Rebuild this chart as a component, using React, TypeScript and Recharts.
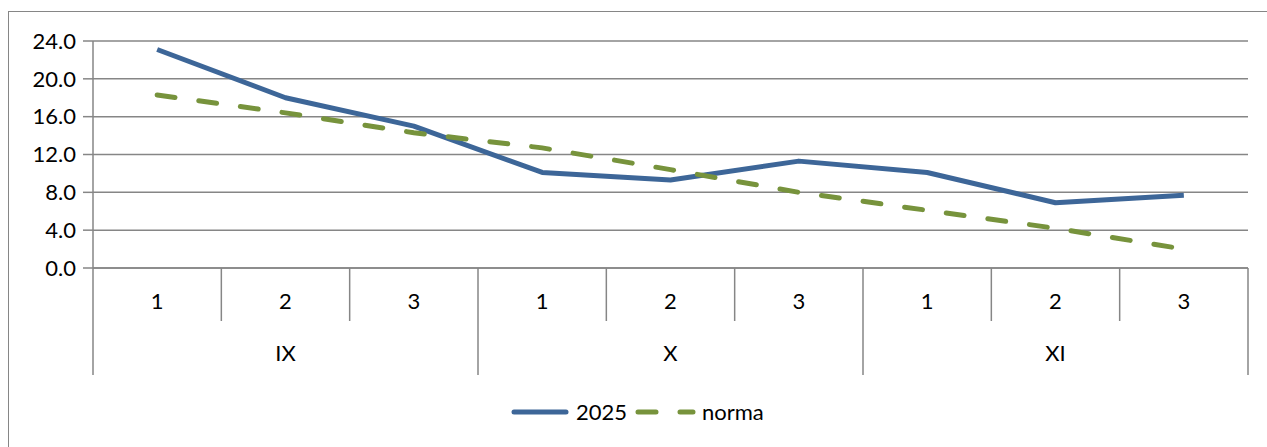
import React from 'react';
import { LineChart, Line, XAxis, YAxis, CartesianGrid } from 'recharts';

const subLabels = ['1', '2', '3', '1', '2', '3', '1', '2', '3'];
const groupLabels = ['IX', 'X', 'XI'];
const series2025 = [23.1, 18.0, 15.0, 10.1, 9.3, 11.3, 10.1, 6.9, 7.7];
const seriesNorma = [18.3, 16.4, 14.3, 12.7, 10.4, 8.0, 6.1, 4.2, 2.0];
const yTicks = [0, 4, 8, 12, 16, 20, 24];

const data = subLabels.map((s, i) => ({
  key: i,
  sub: s,
  group: groupLabels[Math.floor(i / 3)],
  y2025: series2025[i],
  norma: seriesNorma[i],
}));

const W = 1267;
const H = 447;
const ML = 0;
const YW = 93;
const MR = 19;
const MT = 41;
const XH = 107;
const PLOT_H = 227;
const MB = H - MT - PLOT_H - XH;
const BAND = (W - ML - YW - MR) / data.length;
const GRID = '#868686';
const BLUE = '#3D6698';
const GREEN = '#77933C';
const FONT = 'Lato, "Open Sans", sans-serif';

const CatTick = (props: any) => {
  const { x, y, payload } = props;
  const i = payload.index;
  const left = x - BAND / 2;
  const d = data[i];
  return (
    <g>
      <line x1={left} x2={left} y1={y} y2={y + (i % 3 === 0 ? XH : 53)} stroke={GRID} strokeWidth={1.5} />
      {i === data.length - 1 && (
        <line x1={x + BAND / 2} x2={x + BAND / 2} y1={y} y2={y + XH} stroke={GRID} strokeWidth={1.5} />
      )}
      <text x={x} y={y + 41} textAnchor="middle" fontSize={22} fontFamily={FONT} fill="#000">
        {d ? d.sub : ''}
      </text>
      {i % 3 === 1 && d && (
        <text x={x} y={y + 93} textAnchor="middle" fontSize={22} fontFamily={FONT} fill="#000">
          {d.group}
        </text>
      )}
    </g>
  );
};

const LegendBox = () => (
  <svg width={W} height={40} style={{ position: 'absolute', left: 0, top: 395, display: 'block' }}>
    <line x1={514} x2={566} y1={17} y2={17} stroke={BLUE} strokeWidth={5} strokeLinecap="round" />
    <text x={576} y={25} fontSize={22} fontFamily={FONT} fill="#000">2025</text>
    <line x1={638} x2={693} y1={17} y2={17} stroke={GREEN} strokeWidth={5} strokeLinecap="round" strokeDasharray="18 24" />
    <text x={702} y={25} fontSize={22} fontFamily={FONT} fill="#000">norma</text>
  </svg>
);

export default function App() {
  return (
    <div style={{ position: 'absolute', left: 0, top: 0, width: W, height: H, background: '#fff', overflow: 'hidden' }}>
      <div
        style={{
          position: 'absolute',
          left: 8,
          top: 11,
          width: W,
          height: H,
          borderLeft: `1.5px solid ${GRID}`,
          borderTop: `1.5px solid ${GRID}`,
        }}
      />
      <div style={{ position: 'absolute', left: 0, top: 0 }}>
        <LineChart width={W} height={H} data={data} margin={{ top: MT, right: MR, left: ML, bottom: MB }}>
          <CartesianGrid vertical={false} stroke={GRID} strokeWidth={1.5} />
          <XAxis
            dataKey="key"
            type="category"
            height={XH}
            tickLine={false}
            tickSize={0}
            tickMargin={0}
            padding={{ left: BAND / 2, right: BAND / 2 }}
            axisLine={{ stroke: GRID, strokeWidth: 1.5 }}
            tick={<CatTick />}
            interval={0}
          />
          <YAxis
            width={YW}
            domain={[0, 24]}
            ticks={yTicks}
            interval={0}
            tickFormatter={(v: number) => v.toFixed(1)}
            tickSize={10}
            tickMargin={7}
            tickLine={{ stroke: GRID, strokeWidth: 1.5 }}
            axisLine={{ stroke: GRID, strokeWidth: 1.5 }}
            tick={{ fontSize: 22, fontFamily: FONT, fill: '#000' }}
          />
          <Line
            dataKey="y2025"
            stroke={BLUE}
            strokeWidth={5}
            dot={false}
            activeDot={false}
            isAnimationActive={false}
            strokeLinejoin="round"
          />
          <Line
            dataKey="norma"
            stroke={GREEN}
            strokeWidth={5}
            strokeDasharray="18 24"
            strokeLinecap="round"
            dot={false}
            activeDot={false}
            isAnimationActive={false}
          />
        </LineChart>
      </div>
      <LegendBox />
    </div>
  );
}
